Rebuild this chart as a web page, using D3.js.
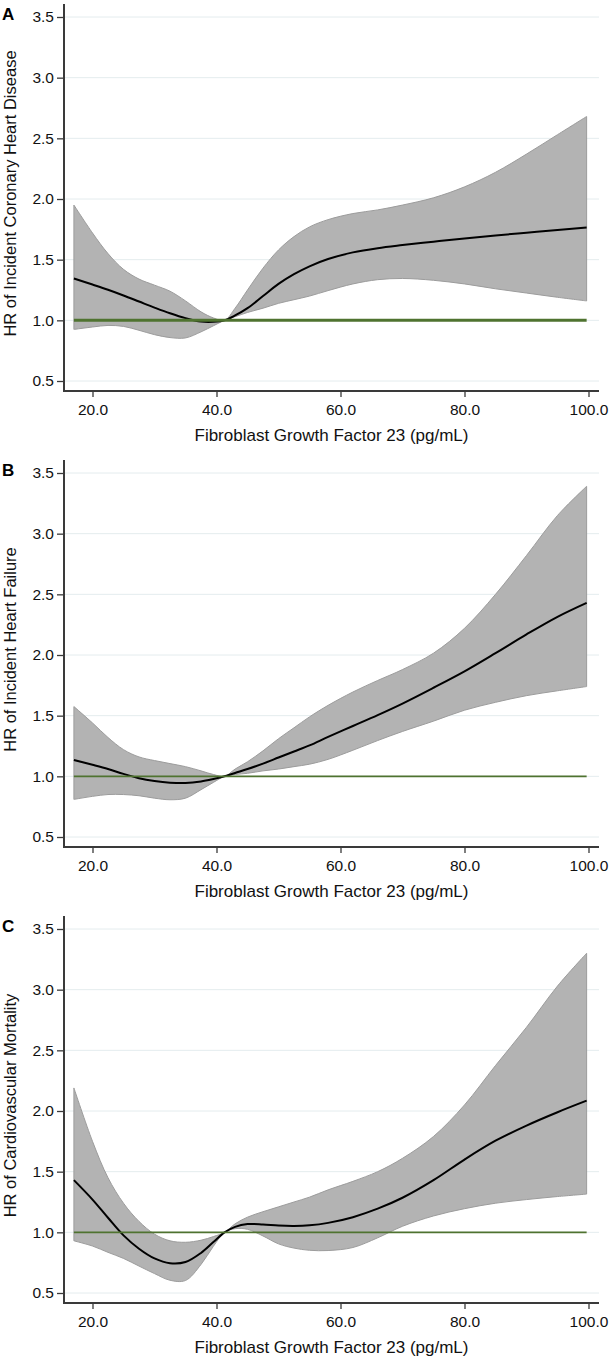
<!DOCTYPE html>
<html>
<head>
<meta charset="utf-8">
<script src="https://cdn.jsdelivr.net/npm/d3@7/dist/d3.min.js"></script>
<style>
  html, body { margin: 0; padding: 0; background: #fff; }
  svg { display: block; font-family: "Liberation Sans", Arial, sans-serif; }
</style>
</head>
<body>
<script>
// ---------------- DATA ----------------
const fgf23 = [17, 20, 22.5, 25, 27.5, 30, 32.5, 35, 37.5, 39.5, 41.3, 43, 45, 47.5, 50, 52.5, 55, 58, 62, 66, 70, 75, 80, 85, 90, 95, 99.7];

// Panel A: incident coronary heart disease
const chdUpper = [1.95, 1.72, 1.55, 1.42, 1.34, 1.29, 1.24, 1.16, 1.07, 1.02, 1.0, 1.10, 1.25, 1.43, 1.58, 1.69, 1.77, 1.83, 1.88, 1.91, 1.95, 2.01, 2.10, 2.22, 2.37, 2.53, 2.68];
const chdFit   = [1.345, 1.295, 1.252, 1.205, 1.155, 1.105, 1.058, 1.018, 0.99, 0.988, 1.0, 1.04, 1.10, 1.20, 1.30, 1.38, 1.445, 1.505, 1.56, 1.595, 1.62, 1.648, 1.675, 1.70, 1.722, 1.744, 1.765];
const chdLower = [0.925, 0.945, 0.958, 0.95, 0.918, 0.882, 0.858, 0.855, 0.905, 0.955, 1.0, 1.03, 1.065, 1.10, 1.14, 1.17, 1.20, 1.245, 1.30, 1.335, 1.345, 1.33, 1.30, 1.26, 1.225, 1.19, 1.16];

// Panel B: incident heart failure
const hfUpper = [1.575, 1.44, 1.32, 1.22, 1.16, 1.13, 1.105, 1.08, 1.045, 1.015, 1.0, 1.06, 1.12, 1.21, 1.31, 1.40, 1.49, 1.585, 1.695, 1.79, 1.88, 2.015, 2.22, 2.50, 2.82, 3.15, 3.39];
const hfFit   = [1.135, 1.095, 1.06, 1.02, 0.985, 0.962, 0.948, 0.945, 0.958, 0.978, 1.0, 1.028, 1.06, 1.105, 1.155, 1.205, 1.255, 1.325, 1.415, 1.505, 1.60, 1.73, 1.865, 2.015, 2.17, 2.315, 2.43];
const hfLower = [0.81, 0.835, 0.85, 0.85, 0.84, 0.82, 0.807, 0.82, 0.89, 0.95, 1.0, 1.015, 1.025, 1.045, 1.06, 1.08, 1.10, 1.14, 1.215, 1.295, 1.37, 1.455, 1.545, 1.61, 1.665, 1.705, 1.74];

// Panel C: cardiovascular mortality
const cvmUpper = [2.19, 1.75, 1.45, 1.24, 1.09, 0.985, 0.93, 0.918, 0.935, 0.965, 1.0, 1.07, 1.125, 1.17, 1.21, 1.25, 1.29, 1.35, 1.42, 1.50, 1.61, 1.79, 2.05, 2.375, 2.69, 3.03, 3.30];
const cvmFit   = [1.43, 1.27, 1.12, 0.975, 0.865, 0.785, 0.745, 0.755, 0.83, 0.92, 1.0, 1.045, 1.068, 1.065, 1.056, 1.053, 1.058, 1.078, 1.125, 1.195, 1.285, 1.43, 1.60, 1.755, 1.88, 1.99, 2.085];
const cvmLower = [0.93, 0.887, 0.835, 0.785, 0.722, 0.66, 0.605, 0.603, 0.735, 0.885, 1.0, 1.03, 1.025, 0.97, 0.905, 0.87, 0.852, 0.85, 0.875, 0.955, 1.05, 1.135, 1.195, 1.24, 1.27, 1.295, 1.315];

const yTicks = [0.5, 1.0, 1.5, 2.0, 2.5, 3.0, 3.5];
const xTicks = [20, 40, 60, 80, 100];
const panelLetters = ["A", "B", "C"];
const yTitles = ["HR of Incident Coronary Heart Disease", "HR of Incident Heart Failure", "HR of Cardiovascular Mortality"];
const xTitle = "Fibroblast Growth Factor 23 (pg/mL)";
const refValue = 1.0;

const panels = [
  { upper: chdUpper, fit: chdFit, lower: chdLower, refWidth: 3 },
  { upper: hfUpper, fit: hfFit, lower: hfLower, refWidth: 1.8 },
  { upper: cvmUpper, fit: cvmFit, lower: cvmLower, refWidth: 1.8 }
];

// ---------------- DRAW ----------------
const W = 609, H = 1359;
const svg = d3.select("body").append("svg").attr("width", W).attr("height", H);

const axisLeftX = 64, axisRightX = 599;
const x = d3.scaleLinear().domain([20, 100]).range([92.5, 588.5]);
const curve = d3.curveCatmullRom.alpha(0.5);
const axisColor = "#3a3a3a";
const font = "'Liberation Sans', Arial, sans-serif";

panels.forEach((p, i) => {
  const off = i * 456;
  const y = d3.scaleLinear().domain([0.5, 3.5]).range([381 + off, 17 + off]);
  const axisY = 391 + off, axisTop = 4 + off;
  const g = svg.append("g");

  const rows = fgf23.map((t, k) => ({ t, hi: p.upper[k], fit: p.fit[k], lo: p.lower[k] }));

  // gridlines
  g.selectAll(".grid").data(yTicks).join("line")
    .attr("x1", axisLeftX).attr("x2", axisRightX)
    .attr("y1", d => y(d)).attr("y2", d => y(d))
    .attr("stroke", "#e4ecee").attr("stroke-width", 1);

  // confidence band
  g.append("path").datum(rows)
    .attr("d", d3.area().x(d => x(d.t)).y0(d => y(d.lo)).y1(d => y(d.hi)).curve(curve))
    .attr("fill", "#b3b3b3").attr("stroke", "#9c9c9c").attr("stroke-width", 1);

  // fitted line
  g.append("path").datum(rows)
    .attr("d", d3.line().x(d => x(d.t)).y(d => y(d.fit)).curve(curve))
    .attr("fill", "none").attr("stroke", "#000").attr("stroke-width", 2);

  // reference line HR = 1
  const t0 = fgf23[0], t1 = fgf23[fgf23.length - 1];
  g.append("line")
    .attr("x1", x(t0)).attr("x2", x(t1))
    .attr("y1", y(refValue)).attr("y2", y(refValue))
    .attr("stroke", "#4f7330").attr("stroke-width", p.refWidth);

  // y axis
  const ya = g.append("g").attr("transform", `translate(${axisLeftX},0)`)
    .call(d3.axisLeft(y).tickValues(yTicks).tickFormat(d3.format(".1f")).tickSize(7).tickPadding(3));
  ya.select(".domain").remove();
  ya.selectAll(".tick line").attr("stroke", axisColor).attr("stroke-width", 1.3);
  ya.selectAll(".tick text").attr("fill", "#111").style("font-size", "15.5px").style("font-family", font);
  g.append("line").attr("x1", axisLeftX).attr("x2", axisLeftX)
    .attr("y1", axisTop).attr("y2", axisY + 1)
    .attr("stroke", axisColor).attr("stroke-width", 2);

  // x axis
  const xa = g.append("g").attr("transform", `translate(0,${axisY})`)
    .call(d3.axisBottom(x).tickValues(xTicks).tickFormat(d3.format(".1f")).tickSize(6).tickPadding(7));
  xa.select(".domain").remove();
  xa.selectAll(".tick line").attr("stroke", axisColor).attr("stroke-width", 1.3);
  xa.selectAll(".tick text").attr("fill", "#111").style("font-size", "15.5px").style("font-family", font);
  g.append("line").attr("x1", axisLeftX - 1).attr("x2", axisRightX)
    .attr("y1", axisY).attr("y2", axisY)
    .attr("stroke", axisColor).attr("stroke-width", 2);

  // x title
  g.append("text").attr("x", (axisLeftX + axisRightX) / 2).attr("y", axisY + 50)
    .attr("text-anchor", "middle").style("font-size", "17px").attr("fill", "#111")
    .text(xTitle);

  // y title
  g.append("text")
    .attr("transform", `translate(16,${(axisTop + axisY) / 2 - 4}) rotate(-90)`)
    .attr("text-anchor", "middle").style("font-size", "16.5px").attr("fill", "#111")
    .text(yTitles[i]);

  // panel letter
  g.append("text").attr("x", 2).attr("y", 20 + off)
    .style("font-size", "17px").style("font-weight", "bold").attr("fill", "#000")
    .text(panelLetters[i]);
});
</script>
</body>
</html>
